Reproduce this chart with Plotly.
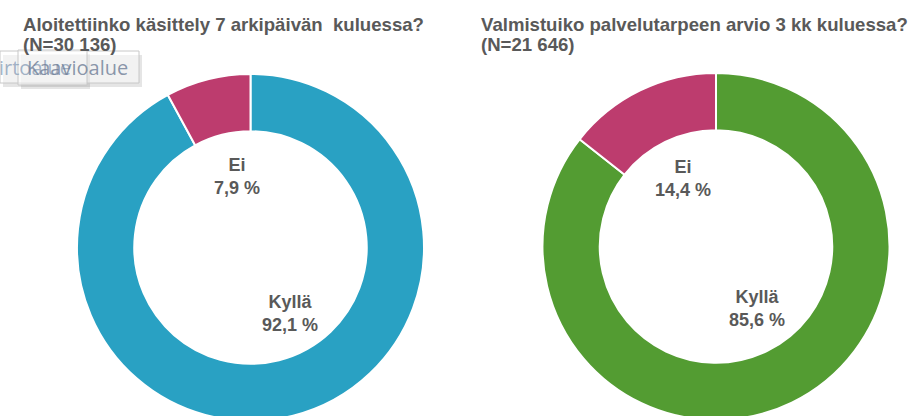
import plotly.graph_objects as go

# ---- data ----
labels = ["Kyllä", "Ei"]
values_left = [92.1, 7.9]
values_right = [85.6, 14.4]
title_left = "Aloitettiinko käsittely 7 arkipäivän  kuluessa?"
n_left = "(N=30 136)"
title_right = "Valmistuiko palvelutarpeen arvio 3 kk kuluessa?"
n_right = "(N=21 646)"
colors_left = ["#29A1C3", "#BD3C6E"]
colors_right = ["#539C32", "#BD3C6E"]

W, H = 911, 430
TXT = "#595959"
FONT = "Liberation Sans, Arial, sans-serif"


def px(x):
    return x / W


def py(y):
    return 1 - y / H


def fmt(v):
    return f"{v:.1f}".replace(".", ",") + " %"


fig = go.Figure()

R = 173.5
for vals, cols, cx, cy in [
    (values_left, colors_left, 250.5, 247.5),
    (values_right, colors_right, 716, 246.5),
]:
    fig.add_trace(go.Pie(
        labels=labels, values=vals, sort=False, direction="clockwise",
        rotation=0, hole=0.67, textinfo="none", hoverinfo="skip",
        marker=dict(colors=cols, line=dict(color="white", width=2)),
        domain=dict(x=[px(cx - R), px(cx + R)], y=[py(cy + R), py(cy - R)]),
        showlegend=False,
    ))

annotations = []
# titles (two lines each)
for t, n, x0 in [(title_left, n_left, 21), (title_right, n_right, 479)]:
    for line, y in [(t, 25), (n, 45)]:
        annotations.append(dict(
            text=f"<b>{line}</b>", x=px(x0), y=py(y), xref="paper", yref="paper",
            xanchor="left", yanchor="middle", align="left", showarrow=False,
            font=dict(family=FONT, size=18.6, color=TXT)))

# slice labels inside hole
label_pos = [
    (values_left, [(290, 313), (237, 176)]),
    (values_right, [(757, 308), (683, 178)]),
]
for vals, poss in label_pos:
    for lab, v, (x, y) in zip(labels, vals, poss):
        annotations.append(dict(
            text=f"<b>{lab}</b><br><b>{fmt(v)}</b>", x=px(x), y=py(y), xref="paper", yref="paper",
            xanchor="center", yanchor="middle", align="center", showarrow=False,
            font=dict(family=FONT, size=18, color=TXT)))

# tooltip overlay texts
annotations.append(dict(text="irtoalue", x=px(-3), y=py(68), xref="paper", yref="paper",
                        xanchor="left", yanchor="middle", showarrow=False,
                        font=dict(family="Open Sans, sans-serif", size=20, color="rgba(140,160,185,0.8)")))
annotations.append(dict(text="Kaavioalue", x=px(25), y=py(68), xref="paper", yref="paper",
                        xanchor="left", yanchor="middle", showarrow=False,
                        font=dict(family="Open Sans, sans-serif", size=20, color="rgba(110,125,150,0.8)")))

shapes = []
# tooltip boxes with shadows
boxes = [(0, 139, 51, 83), (18, 87, 50, 85)]
for x0, x1, y0, y1 in boxes:
    shapes.append(dict(type="rect", xref="paper", yref="paper",
                       x0=px(x0 + 3), x1=px(x1 + 3), y0=py(y1 + 4), y1=py(y0 + 4),
                       fillcolor="rgba(0,0,0,0.10)", line=dict(width=0), layer="below"))
for x0, x1, y0, y1 in boxes:
    shapes.append(dict(type="rect", xref="paper", yref="paper",
                       x0=px(x0), x1=px(x1), y0=py(y1), y1=py(y0),
                       fillcolor="rgba(255,255,255,0.5)", line=dict(color="#c8c8c8", width=1),
                       layer="above"))

fig.update_layout(
    width=W, height=H, margin=dict(l=0, r=0, t=0, b=0),
    paper_bgcolor="white", plot_bgcolor="white",
    annotations=annotations, shapes=shapes, showlegend=False,
)

fig.write_html("out.html", config={"displayModeBar": False},
               post_script="document.body.style.overflow='hidden';document.body.style.margin='0';")
